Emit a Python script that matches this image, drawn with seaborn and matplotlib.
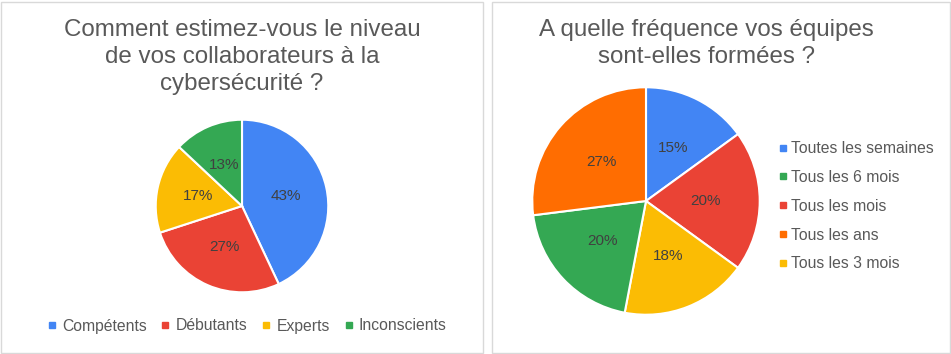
import matplotlib
matplotlib.use("Agg")
import matplotlib.pyplot as plt
from matplotlib.patches import Rectangle
from matplotlib.lines import Line2D
import seaborn as sns

LEVEL_TITLE = "Comment estimez-vous le niveau\nde vos collaborateurs à la\ncybersécurité ?"
LEVEL_LABELS = ["Compétents", "Débutants", "Experts", "Inconscients"]
LEVEL_VALUES = [43, 27, 17, 13]

FREQ_TITLE = "A quelle fréquence vos équipes\nsont-elles formées ?"
FREQ_LABELS = ["Toutes les semaines", "Tous les mois", "Tous les 3 mois", "Tous les 6 mois", "Tous les ans"]
FREQ_VALUES = [15, 20, 18, 20, 27]
FREQ_LEGEND = ["Toutes les semaines", "Tous les 6 mois", "Tous les mois", "Tous les ans", "Tous les 3 mois"]

COLORS = {
    "Compétents": "#4285F4", "Débutants": "#EA4335", "Experts": "#FBBC04", "Inconscients": "#34A853",
    "Toutes les semaines": "#4285F4", "Tous les mois": "#EA4335", "Tous les 3 mois": "#FBBC04",
    "Tous les 6 mois": "#34A853", "Tous les ans": "#FF6D01",
}

sns.set_theme(style="white")
plt.rcParams["font.family"] = ["Liberation Sans", "DejaVu Sans"]

W, H = 951, 354
fig = plt.figure(figsize=(W / 100, H / 100), dpi=100)
fig.patch.set_facecolor("white")

TEXT = "#595959"


def px_axes(cx, cy, r):
    return fig.add_axes([(cx - r) / W, (H - cy - r) / H, 2 * r / W, 2 * r / H])


def draw_pie(ax, labels, values):
    ax.pie(values, colors=[COLORS[l] for l in labels], startangle=90, counterclock=False,
           autopct="%d%%", pctdistance=0.52,
           wedgeprops=dict(edgecolor="white", linewidth=1.5),
           textprops=dict(color="#404040", fontsize=11))
    ax.set_xlim(-1.02, 1.02)
    ax.set_ylim(-1.02, 1.02)
    ax.set_aspect("equal")


def handles(labels):
    return [Line2D([], [], marker="s", linestyle="", markersize=4.5,
                   markerfacecolor=COLORS[l], markeredgecolor=COLORS[l]) for l in labels]


# panel borders
fig.patches.append(Rectangle((0.5 / W, 1 / H), 483 / W, 351 / H, transform=fig.transFigure,
                             fill=False, edgecolor="#d9d9d9", linewidth=1))
fig.patches.append(Rectangle((492 / W, 1 / H), 458 / W, 351 / H, transform=fig.transFigure,
                             fill=False, edgecolor="#d9d9d9", linewidth=1))

# left chart
ax1 = px_axes(242, 206, 88)
draw_pie(ax1, LEVEL_LABELS, LEVEL_VALUES)
fig.text(242 / W, 1 - 19 / H, LEVEL_TITLE, ha="center", va="top", fontsize=17.4,
         color=TEXT, linespacing=1.3)
fig.legend(handles(LEVEL_LABELS), LEVEL_LABELS, loc="center", bbox_to_anchor=(246 / W, 1 - 326 / H),
           ncol=4, frameon=False, fontsize=11.3, labelcolor=TEXT, handletextpad=0.25,
           columnspacing=0.8, handlelength=0.8)

# right chart
ax2 = px_axes(646, 201, 116)
draw_pie(ax2, FREQ_LABELS, FREQ_VALUES)
fig.text(706 / W, 1 - 19 / H, FREQ_TITLE, ha="center", va="top", fontsize=17.4,
         color=TEXT, linespacing=1.3)
fig.legend(handles(FREQ_LEGEND), FREQ_LEGEND, loc="upper left", bbox_to_anchor=(763 / W, 1 - 127 / H),
           ncol=1, frameon=False, fontsize=11.3, labelcolor=TEXT, handletextpad=0.1,
           labelspacing=0.88, handlelength=0.8)

fig.savefig("out.png", dpi=100)
